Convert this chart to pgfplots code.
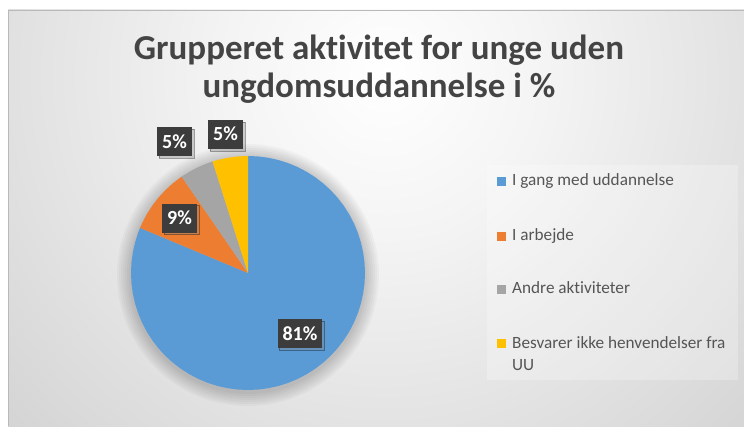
\documentclass[border=0pt]{standalone}
\usepackage{fontspec}
\setmainfont{Carlito}[Ligatures=NoCommon]
\usepackage{pgfplots}
\pgfplotsset{compat=1.18}
\usetikzlibrary{shadows}
\definecolor{pieblue}{HTML}{5B9BD5}
\definecolor{pieorange}{HTML}{ED7D31}
\definecolor{piegray}{HTML}{A5A5A5}
\definecolor{pieyellow}{HTML}{FFC000}
\definecolor{lblbox}{HTML}{3C3C3C}
\definecolor{titlecol}{HTML}{444444}
\definecolor{legcol}{HTML}{555555}
\definecolor{bgmid}{HTML}{F4F4F4}
\definecolor{bgout}{HTML}{C6C6C6}
\pgfdeclareradialshading{bgshade}{\pgfpoint{0bp}{0bp}}{color(0bp)=(white); color(5bp)=(bgmid); color(21bp)=(bgout); color(50bp)=(bgout)}
\begin{document}
\begin{tikzpicture}[x=1pt,y=1pt]
\useasboundingbox (0,0) rectangle (744,426);
\fill[white] (0,0) rectangle (744,426);
% chart area background
\begin{scope}
\clip (8,0) rectangle (744,416);
\shade[shading=bgshade] (385,350) circle (800);
\end{scope}
\draw[gray!55, line width=0.8pt] (8,0) -- (8,416) -- (744,416);
% soft shadow around pie
\foreach \r in {119,121,123,125,127,129,131}{
  \fill[black, opacity=0.028] (248,151) circle (\r);
}
% title
\node[anchor=base, font=\fontsize{35}{40}\selectfont\bfseries, text=titlecol, inner sep=0pt] at (379,366) {Grupperet aktivitet for unge uden};
\node[anchor=base, font=\fontsize{35}{40}\selectfont\bfseries, text=titlecol, inner sep=0pt] at (379,328.5) {ungdomsuddannelse i \%};
% pie
\begin{axis}[at={(248pt,153pt)}, anchor=origin, width=234pt, height=234pt, scale only axis,
  xmin=-1, xmax=1, ymin=-1, ymax=1, hide axis, clip=false]
% 81.3 % : I gang med uddannelse
\addplot[fill=pieblue, draw=none, data cs=polar] coordinates {
 (0,0) (-202.68,1) (-200,1) (-195,1) (-190,1) (-185,1) (-180,1) (-175,1) (-170,1) (-165,1)
 (-160,1) (-155,1) (-150,1) (-145,1) (-140,1) (-135,1) (-130,1) (-125,1) (-120,1) (-115,1)
 (-110,1) (-105,1) (-100,1) (-95,1) (-90,1) (-85,1) (-80,1) (-75,1) (-70,1) (-65,1)
 (-60,1) (-55,1) (-50,1) (-45,1) (-40,1) (-35,1) (-30,1) (-25,1) (-20,1) (-15,1)
 (-10,1) (-5,1) (0,1) (5,1) (10,1) (15,1) (20,1) (25,1) (30,1) (35,1) (40,1) (45,1)
 (50,1) (55,1) (60,1) (65,1) (70,1) (75,1) (80,1) (85,1) (90,1) (0,0)};
% 9.1 % : I arbejde
\addplot[fill=pieorange, draw=none, data cs=polar] coordinates {
 (0,0) (124.56,1) (130,1) (135,1) (140,1) (145,1) (150,1) (155,1) (157.32,1) (0,0)};
% 4.7 % : Andre aktiviteter
\addplot[fill=piegray, draw=none, data cs=polar] coordinates {
 (0,0) (107.64,1) (110,1) (115,1) (120,1) (124.56,1) (0,0)};
% 4.9 % : Besvarer ikke henvendelser fra UU
\addplot[fill=pieyellow, draw=none, data cs=polar] coordinates {
 (0,0) (90,1) (95,1) (100,1) (105,1) (107.64,1) (0,0)};
% data labels
\addplot[only marks, mark=none, nodes near coords, point meta=explicit symbolic,
  every node near coord/.append style={anchor=center, fill=lblbox, text=white,
    font=\fontsize{20}{22}\selectfont\bfseries, inner xsep=5pt, inner ysep=0pt,
    minimum height=29pt, text height=13pt, text depth=0pt,
    drop shadow={shadow xshift=2pt, shadow yshift=-2pt, opacity=0.35}}]
 coordinates {(0.444,-0.521) [81\%] (-0.585,0.470) [9\%] (-0.628,1.120) [5\%] (-0.192,1.184) [5\%]};
\end{axis}
% legend
\fill[white, opacity=0.25] (487,261) rectangle (738,46);
\fill[pieblue] (497,240) rectangle (506,249);
\fill[pieorange] (497,185) rectangle (506,194);
\fill[piegray] (497,132) rectangle (506,141);
\fill[pieyellow] (497,78) rectangle (506,87);
\begin{scope}[every node/.style={anchor=base west, inner sep=0pt, text=legcol, font=\fontsize{17.2}{22}\selectfont}]
\node at (512,240) {I gang med uddannelse};
\node at (512,185) {I arbejde};
\node at (512,132) {Andre aktiviteter};
\node at (512,78) {Besvarer ikke henvendelser fra};
\node at (512,56) {UU};
\end{scope}
\end{tikzpicture}
\end{document}
